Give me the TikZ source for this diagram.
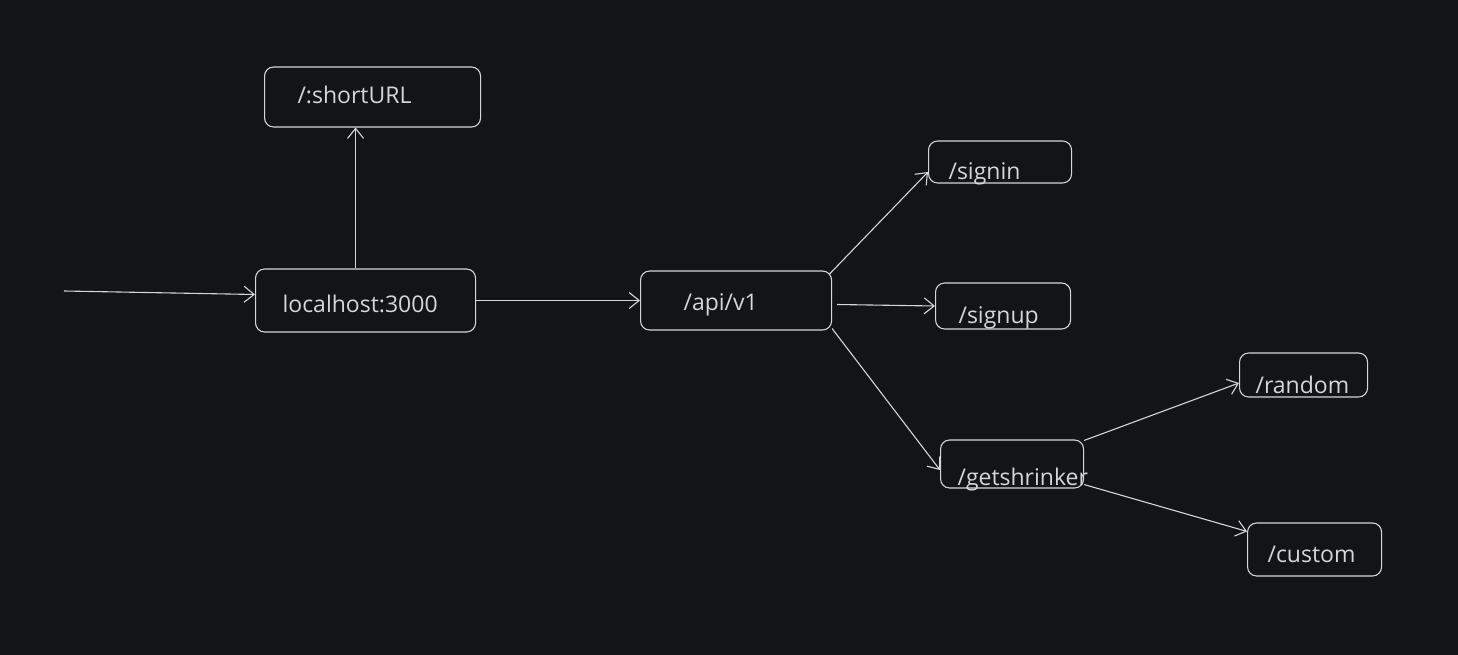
\documentclass[tikz,border=0pt]{standalone}
\usepackage{fontspec}
\setmainfont{Open Sans}
\usetikzlibrary{arrows.meta}

\definecolor{bgdark}{HTML}{121417}
\definecolor{chalk}{HTML}{D6D6D6}

\tikzset{
    route/.style n args={5}{draw=chalk, line width=1.1pt, rounded corners=9pt,
        anchor=base west, align=left, inner ysep=0pt, inner xsep=#1,
        text width=#2, text height=#3, text depth=#4, text=chalk,
        font=\fontsize{23}{26}\selectfont, minimum width=0pt},
}

\begin{document}
\begin{tikzpicture}[x=1pt, y=-1pt, >={Straight Barb[length=10pt,width=16pt]}]

    \useasboundingbox[fill=bgdark] (0,0) rectangle (1458,655);

    \node[route={33pt}{150pt}{37pt}{23pt}] (shorturl) at (264,104) {/:shortURL};
    \node[route={27pt}{166pt}{43pt}{20pt}] (localhost) at (255,312) {localhost:3000};
    \node[route={43pt}{105pt}{39pt}{20pt}] (api) at (640,310) {/api/v1};

    \node[route={20pt}{103pt}{38pt}{4pt}] (signin) at (928,179) {/signin};
    \node[route={23pt}{89pt}{40pt}{6pt}] (signup) at (935,323) {/signup};
    \node[route={17pt}{109pt}{45pt}{3pt}] (getshrinker) at (940,485) {\mbox{/getshrinker}};

    \node[route={16pt}{96pt}{40pt}{4pt}] (random) at (1239,393) {/random};
    \node[route={20pt}{94pt}{39pt}{14pt}] (custom) at (1247,562) {/custom};

    \coordinate (entry) at (64,291);

    \begin{scope}[draw=chalk, line width=1.1pt]
    \draw[->] (entry) -- ([yshift=6pt]localhost.west);
    \draw[->] ([xshift=-10pt]localhost.north) -- ([xshift=-10pt]localhost.north |- shorturl.south);
    \draw[->] (localhost.east) -- (api.west);

    \draw[->] ([xshift=-3pt,yshift=-4pt]api.north east) -- ([yshift=-10pt]signin.west);
    \draw[->] ([xshift=5pt,yshift=-4pt]api.east) -- (signup.west);
    \draw[->] ([yshift=2pt]api.south east) -- ([yshift=-6pt]getshrinker.west);

    \draw[->] ([yshift=-1pt]getshrinker.north east) -- ([yshift=-8pt]random.west);
    \draw[->] ([yshift=4pt]getshrinker.south east) -- ([yshift=-9pt]custom.north west);
    \end{scope}

\end{tikzpicture}
\end{document}
